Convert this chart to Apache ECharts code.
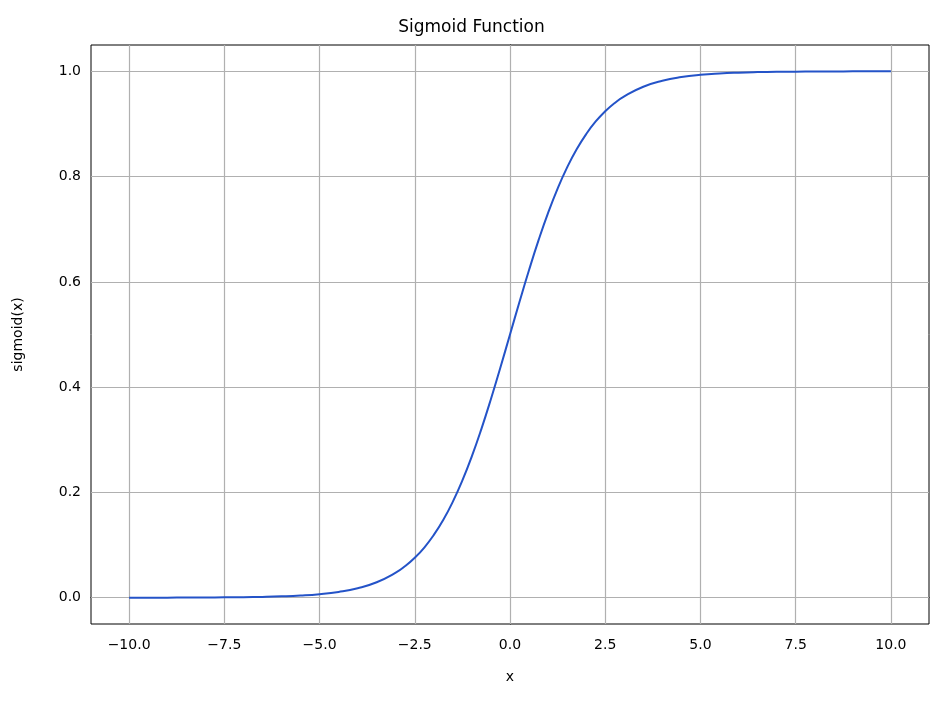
<!DOCTYPE html>
<html><head><meta charset="utf-8">
<script src="https://cdn.jsdelivr.net/npm/echarts@6/dist/echarts.min.js"></script>
<style>html,body{margin:0;padding:0;background:#fff}#c{width:943px;height:702px}</style>
</head><body><div id="c"></div>
<script>
const xs = [-10,-9.5,-9,-8.5,-8,-7.5,-7,-6.5,-6,-5.5,-5,-4.5,-4,-3.5,-3,-2.75,-2.5,-2.25,-2,-1.75,-1.5,-1.25,-1,-0.75,-0.5,-0.25,0,0.25,0.5,0.75,1,1.25,1.5,1.75,2,2.25,2.5,2.75,3,3.5,4,4.5,5,5.5,6,6.5,7,7.5,8,8.5,9,9.5,10];
const ys = [0.0000,0.0001,0.0001,0.0002,0.0003,0.0006,0.0009,0.0015,0.0025,0.0041,0.0067,0.0110,0.0180,0.0293,0.0474,0.0601,0.0759,0.0953,0.1192,0.1480,0.1824,0.2227,0.2689,0.3208,0.3775,0.4378,0.5,0.5622,0.6225,0.6792,0.7311,0.7773,0.8176,0.8520,0.8808,0.9047,0.9241,0.9399,0.9526,0.9707,0.9820,0.9890,0.9933,0.9959,0.9975,0.9985,0.9991,0.9994,0.9997,0.9998,0.9999,0.9999,1.0000];
const xTicks = [-10,-7.5,-5,-2.5,0,2.5,5,7.5,10];
const yTicks = [0,0.2,0.4,0.6,0.8,1.0];
const fmt = v => v.toFixed(1).replace('-', '\u2212');
const font = 'DejaVu Sans';
const chart = echarts.init(document.getElementById('c'));
const gl = {color:'#b0b0b0', width:1.2, type:'solid'};
chart.setOption({
  animation:false,
  textStyle:{fontFamily:font},
  title:{text:'Sigmoid Function', left:'center', top:14, textStyle:{fontFamily:font, fontSize:17, fontWeight:'normal', color:'#000'}},
  grid:{left:91, right:14, top:45, bottom:78, show:true, borderColor:'#000', borderWidth:1, backgroundColor:'transparent'},
  xAxis:{type:'value', min:-11, max:11, name:'x', nameLocation:'middle', nameGap:46,
    nameTextStyle:{fontSize:14, color:'#000', fontFamily:font},
    axisLine:{show:true, lineStyle:{color:'#000'}},
    axisTick:{show:true, customValues:xTicks, length:5, lineStyle:{color:'#000'}},
    axisLabel:{customValues:xTicks, formatter:fmt, fontSize:14, color:'#000', fontFamily:font, margin:14},
    splitLine:{show:false}},
  yAxis:{type:'value', min:-0.05, max:1.05, name:'sigmoid(x)', nameLocation:'middle', nameGap:66,
    nameTextStyle:{fontSize:14, color:'#000', fontFamily:font},
    axisLine:{show:true, lineStyle:{color:'#000'}},
    axisTick:{show:true, customValues:yTicks, length:5, lineStyle:{color:'#000'}},
    axisLabel:{customValues:yTicks, formatter:fmt, fontSize:14, color:'#000', fontFamily:font, margin:10},
    splitLine:{show:false}},
  series:[{type:'line', data:xs.map((x,i)=>[x,ys[i]]), showSymbol:false, smooth:true,
    lineStyle:{color:'#2453c8', width:2}, z:5,
    markLine:{silent:true, symbol:'none', label:{show:false}, lineStyle:gl, animation:false,
      data:[...xTicks.map(v=>({xAxis:v})), ...yTicks.map(v=>({yAxis:v}))]}}]
});
</script></body></html>
